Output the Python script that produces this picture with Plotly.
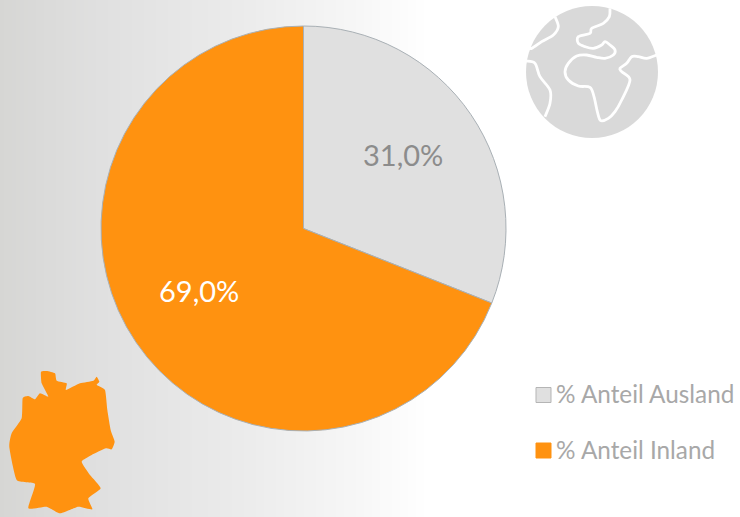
import plotly.graph_objects as go

W, H = 740, 517
categories = ["% Anteil Ausland", "% Anteil Inland"]
values = [31.0, 69.0]
labels_text = ["31,0%", "69,0%"]
colors = ["#E0E0E0", "#FF9210"]
label_colors = ["#8C8C8C", "#FFFFFF"]
label_pos = [(402.5, 155), (199, 290)]
FONT = "Lato"

def X(x): return x / W
def Y(y): return 1 - y / H

def smooth(pts, ox=0, oy=0, s=1.0, close=False, k=0.16):
    p = [(ox + a * s, oy + b * s) for a, b in pts]
    n = len(p)
    get = (lambda i: p[i % n]) if close else (lambda i: p[max(0, min(n - 1, i))])
    d = f"M {X(p[0][0]):.5f},{Y(p[0][1]):.5f}"
    for i in range(n if close else n - 1):
        p0, p1, p2, p3 = get(i - 1), get(i), get(i + 1), get(i + 2)
        c1 = (p1[0] + (p2[0] - p0[0]) * k, p1[1] + (p2[1] - p0[1]) * k)
        c2 = (p2[0] - (p3[0] - p1[0]) * k, p2[1] - (p3[1] - p1[1]) * k)
        d += f" C {X(c1[0]):.5f},{Y(c1[1]):.5f} {X(c2[0]):.5f},{Y(c2[1]):.5f} {X(p2[0]):.5f},{Y(p2[1]):.5f}"
    return d + (" Z" if close else "")

germany = [(123,35),(140,33),(165,40),(170,62),(200,70),(198,90),(240,70),(280,62),(290,50),(298,65),(290,75),
           (315,90),(322,150),(332,210),(344,245),(335,268),(318,265),(275,285),(245,305),(270,345),(302,385),
           (265,415),(277,448),(235,440),(180,460),(140,440),(85,445),(105,372),(50,360),(28,262),(35,220),
           (65,175),(68,115),(85,108),(105,118),(120,100),(145,110),(125,70)]
globe_lines = [
    [(135,50),(145,80),(130,105),(95,125),(65,145),(50,140)],
    [(48,183),(75,190),(90,230),(120,270),(120,310),(105,350)],
    [(300,25),(298,50),(280,70),(245,85),(240,100),(205,110),(205,130),(225,140),(250,145),(275,135),(285,125),
     (300,135),(315,150),(310,165),(285,175),(260,172),(230,165),(200,168),(175,190),(165,215),(175,240),
     (205,258),(240,262),(252,290),(262,335),(272,362),(295,355),(315,335),(335,300),(360,240),(335,215),
     (330,205),(350,190),(365,170),(385,170),(410,175),(440,165)],
]

shapes = []
n = 108
stops = [(0, (214,214,212)), (100, (224,224,224)), (250, (236,236,236)), (350, (246,246,246)), (430, (255,255,255))]
def grad(x):
    for (a, ca), (b, cb) in zip(stops, stops[1:]):
        if x <= b:
            t = (x - a) / (b - a)
            return tuple(round(p + (q - p) * t) for p, q in zip(ca, cb))
    return stops[-1][1]
for i in range(n):
    x0, x1 = i * 4, (i + 1) * 4
    c = grad(x0 + 2)
    shapes.append(dict(type="rect", xref="paper", yref="paper", x0=X(x0), x1=X(x1), y0=0, y1=1,
                       fillcolor=f"rgb{c}", line_width=0, layer="below"))
shapes.append(dict(type="path", xref="paper", yref="paper", path=smooth(germany, 0, 360, 1/3, True, k=0.08),
                   fillcolor=colors[1], line_width=0, layer="below"))
shapes.append(dict(type="circle", xref="paper", yref="paper", x0=X(526), x1=X(658), y0=Y(138), y1=Y(6),
                   fillcolor="#D9D9D9", line_width=0, layer="below"))
for l in globe_lines:
    shapes.append(dict(type="path", xref="paper", yref="paper", path=smooth(l, 510, 0, 1/3),
                       line=dict(color="#FFFFFF", width=2.8), layer="below"))

annotations = []
for i, (cat, col) in enumerate(zip(categories, colors)):
    yc = 395 + i * 55.5
    shapes.append(dict(type="rect", xref="paper", yref="paper", x0=X(536), x1=X(551), y0=Y(yc + 7.5), y1=Y(yc - 7.5),
                       fillcolor=col, line=dict(color="#B5B5B5" if i == 0 else col, width=1)))
    annotations.append(dict(xref="paper", yref="paper", x=X(553.5), y=Y(yc - 1.5), xanchor="left", yanchor="middle",
                            text=cat, showarrow=False, font=dict(family=FONT, size=24.3, color="#A8A8A8")))
for t, (x, y), c in zip(labels_text, label_pos, label_colors):
    annotations.append(dict(xref="paper", yref="paper", x=X(x), y=Y(y), xanchor="center", yanchor="middle",
                            text=t, showarrow=False, font=dict(family=FONT, size=29, color=c)))

fig = go.Figure(go.Pie(
    labels=categories, values=values, sort=False, direction="clockwise", rotation=0,
    textinfo="none",
    marker=dict(colors=colors, line=dict(color="#A9B0B5", width=1)),
    domain=dict(x=[X(101), X(506)], y=[Y(431), Y(26)]),
    showlegend=False, hoverinfo="label+percent",
))
fig.update_layout(width=W, height=H, margin=dict(l=0, r=0, t=0, b=0), paper_bgcolor="#FFFFFF",
                  plot_bgcolor="rgba(0,0,0,0)", shapes=shapes, annotations=annotations, showlegend=False)
fig.write_html("out.html", config=dict(displayModeBar=False),
               post_script="document.body.style.margin='0';document.body.style.overflow='hidden';")
